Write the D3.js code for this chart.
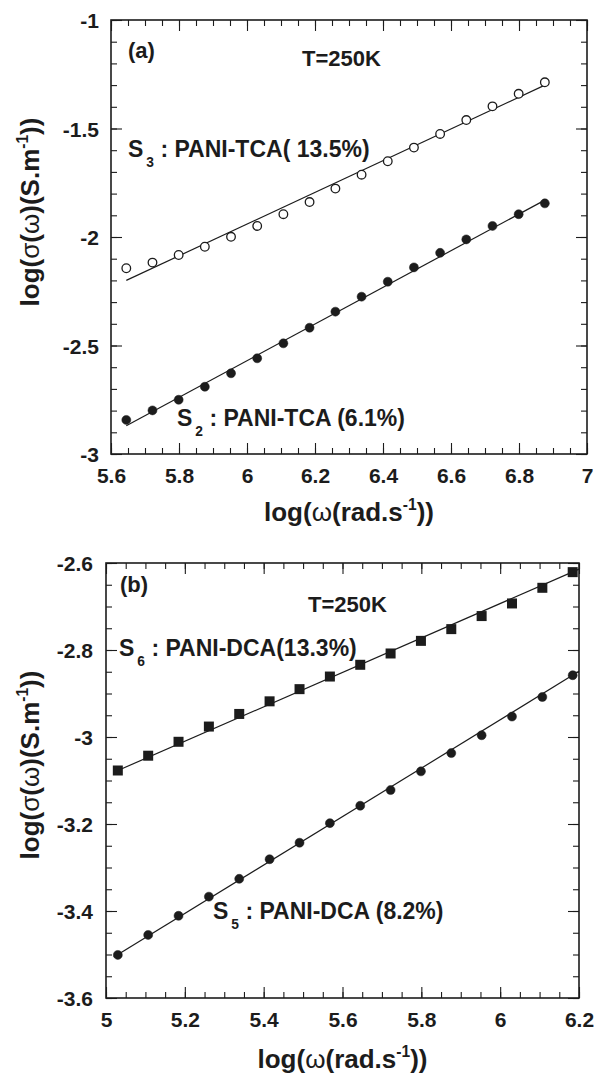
<!DOCTYPE html>
<html><head><meta charset="utf-8">
<script src="https://cdn.jsdelivr.net/npm/d3@7"></script>
<style>
body{margin:0;background:#fff}
svg{display:block;background:#fff}
text{font-family:"Liberation Sans",Arial,Helvetica,sans-serif;font-weight:bold;fill:#1c1c1c}
</style>
</head><body>
<svg id="chart" width="595" height="1077"></svg>
<script>
// ---------- Panel (a) data ----------
const freqA = [5.645,5.722,5.799,5.876,5.953,6.030,6.107,6.184,6.260,6.337,6.414,6.491,6.568,6.645,6.722,6.799,6.876];
const sigmaS3 = [-2.144,-2.118,-2.083,-2.045,-1.999,-1.949,-1.895,-1.839,-1.777,-1.713,-1.651,-1.588,-1.525,-1.461,-1.398,-1.340,-1.287];
const sigmaS2 = [-2.843,-2.799,-2.750,-2.690,-2.628,-2.559,-2.490,-2.418,-2.344,-2.275,-2.206,-2.140,-2.073,-2.011,-1.949,-1.895,-1.845];
const fitXA = [5.645, 6.876];
const fitS3 = [-2.200, -1.300];
const fitS2 = [-2.870, -1.830];
const xTicksA = [5.6,5.8,6,6.2,6.4,6.6,6.8,7];
const yTicksA = [-3,-2.5,-2,-1.5,-1];

// ---------- Panel (b) data ----------
const freqB = [5.030,5.107,5.184,5.261,5.338,5.415,5.491,5.568,5.645,5.722,5.799,5.876,5.953,6.030,6.107,6.184];
const sigmaS6 = [-3.077,-3.043,-3.011,-2.976,-2.947,-2.918,-2.890,-2.861,-2.834,-2.808,-2.779,-2.752,-2.722,-2.693,-2.657,-2.621];
const sigmaS5 = [-3.501,-3.455,-3.411,-3.367,-3.326,-3.281,-3.243,-3.198,-3.158,-3.122,-3.079,-3.037,-2.996,-2.953,-2.908,-2.858];
const fitXB = [5.020, 6.200];
const fitS6 = [-3.081, -2.614];
const fitS5 = [-3.506, -2.849];
const xTicksB = [5,5.2,5.4,5.6,5.8,6,6.2];
const yTicksB = [-3.6,-3.4,-3.2,-3,-2.8,-2.6];

const svg = d3.select("#chart");
const INK = "#1c1c1c";

function richText(g, x, y, size, parts, anchor, transform) {
  const t = g.append("text").attr("font-size", size).attr("text-anchor", anchor || "start");
  if (transform) t.attr("transform", transform); else t.attr("x", x).attr("y", y);
  let shift = 0;
  parts.forEach(p => {
    const s = t.append("tspan").text(p.t);
    let target = 0;
    if (p.sup) { s.attr("font-size", size * 0.6); target = -size * 0.42; }
    if (p.sub) { s.attr("font-size", size * 0.6); target = size * 0.45; }
    if (p.dx) s.attr("dx", p.dx);
    if (p.normal) s.attr("font-weight", "normal");
    s.attr("dy", target - shift);
    shift = target;
  });
  return t;
}

function panel(cfg) {
  const g = svg.append("g");
  const x = d3.scaleLinear().domain(cfg.xd).range([cfg.l, cfg.r]);
  const y = d3.scaleLinear().domain(cfg.yd).range([cfg.b, cfg.t]);

  const strip = sel => { sel.select(".domain").remove(); sel.selectAll("line").attr("stroke", INK).attr("stroke-width", 1.1); };

  // minor ticks (all four sides, pointing inward)
  g.append("g").attr("transform", `translate(0,${cfg.b})`)
    .call(d3.axisBottom(x).tickValues(x.ticks(cfg.xMinor)).tickSize(-6).tickFormat("")).call(strip);
  g.append("g").attr("transform", `translate(0,${cfg.t})`)
    .call(d3.axisTop(x).tickValues(x.ticks(cfg.xMinor)).tickSize(-6).tickFormat("")).call(strip);
  g.append("g").attr("transform", `translate(${cfg.l},0)`)
    .call(d3.axisLeft(y).tickValues(y.ticks(cfg.yMinor)).tickSize(-6).tickFormat("")).call(strip);
  g.append("g").attr("transform", `translate(${cfg.r},0)`)
    .call(d3.axisRight(y).tickValues(y.ticks(cfg.yMinor)).tickSize(-6).tickFormat("")).call(strip);

  // major ticks
  const bx = g.append("g").attr("transform", `translate(0,${cfg.b})`)
    .call(d3.axisBottom(x).tickValues(cfg.xTicks).tickSize(-11).tickFormat(d => String(d))).call(strip);
  bx.selectAll("text").attr("y", 29).attr("dy", 0).attr("font-size", 21).attr("fill", INK)
    .style("font-family", '"Liberation Sans",Arial,sans-serif').style("font-weight", "bold");
  g.append("g").attr("transform", `translate(0,${cfg.t})`)
    .call(d3.axisTop(x).tickValues(cfg.xTicks).tickSize(-11).tickFormat("")).call(strip);
  const ly = g.append("g").attr("transform", `translate(${cfg.l},0)`)
    .call(d3.axisLeft(y).tickValues(cfg.yTicks).tickSize(-11).tickFormat(d => String(d))).call(strip);
  ly.selectAll("text").attr("x", -cfg.yLabGap).attr("dy", "0.36em").attr("font-size", 21).attr("fill", INK)
    .style("font-family", '"Liberation Sans",Arial,sans-serif').style("font-weight", "bold");
  g.append("g").attr("transform", `translate(${cfg.r},0)`)
    .call(d3.axisRight(y).tickValues(cfg.yTicks).tickSize(-11).tickFormat("")).call(strip);

  // frame
  g.append("rect").attr("x", cfg.l).attr("y", cfg.t).attr("width", cfg.r - cfg.l).attr("height", cfg.b - cfg.t)
    .attr("fill", "none").attr("stroke", INK).attr("stroke-width", 1.6);

  // fit lines
  const line = d3.line().x(d => x(d[0])).y(d => y(d[1]));
  cfg.fits.forEach(f => {
    g.append("path").datum(f.xs.map((v, i) => [v, f.ys[i]])).attr("d", line)
      .attr("fill", "none").attr("stroke", INK).attr("stroke-width", 1.2);
  });

  // markers
  cfg.series.forEach(s => {
    const pts = s.xs.map((v, i) => [v, s.ys[i]]);
    if (s.shape === "square") {
      g.selectAll(null).data(pts).enter().append("rect")
        .attr("x", d => x(d[0]) - 5).attr("y", d => y(d[1]) - 5)
        .attr("width", 10).attr("height", 10).attr("fill", INK);
    } else {
      g.selectAll(null).data(pts).enter().append("circle")
        .attr("cx", d => x(d[0])).attr("cy", d => y(d[1])).attr("r", s.open ? 4.3 : 4.5)
        .attr("fill", s.open ? "#fff" : INK).attr("stroke", INK).attr("stroke-width", s.open ? 1.3 : 0.5);
    }
  });

  // texts
  g.append("text").attr("x", cfg.tag[0]).attr("y", cfg.tag[1]).attr("font-size", 22).text(cfg.tag[2]);
  g.append("text").attr("x", cfg.temp[0]).attr("y", cfg.temp[1]).attr("font-size", 22).text("T=250K");
  cfg.labels.forEach(L => {
    richText(g, L.x, L.y, 23, [{t: "S"}, {t: L.n, sub: true, dx: 3}, {t: " : " + L.text}]);
  });
  // x title
  richText(g, (cfg.l + cfg.r) / 2, cfg.xTitleY, 26,
    [{t: "log("}, {t: "ω", normal: true}, {t: "(rad.s"}, {t: "-1", sup: true}, {t: "))"}], "middle");
  // y title
  richText(g, 0, 0, 26,
    [{t: "log("}, {t: "σ", normal: true}, {t: "("}, {t: "ω", normal: true}, {t: ")(S.m"}, {t: "-1", sup: true}, {t: "))"}],
    "middle", `translate(39,${cfg.yTitleY}) rotate(-90)`);
}

panel({
  l: 111, r: 587, t: 20, b: 454,
  xd: [5.6, 7], yd: [-3, -1], xMinor: 28, yMinor: 20,
  xTicks: xTicksA, yTicks: yTicksA, yLabGap: 12,
  fits: [{xs: fitXA, ys: fitS3}, {xs: fitXA, ys: fitS2}],
  series: [{xs: freqA, ys: sigmaS3, open: true}, {xs: freqA, ys: sigmaS2, open: false}],
  tag: [128, 58, "(a)"], temp: [302, 66],
  labels: [{x: 128, y: 157, n: "3", text: "PANI-TCA( 13.5%)"}, {x: 177, y: 426, n: "2", text: "PANI-TCA (6.1%)"}],
  xTitleY: 521, yTitleY: 212
});

panel({
  l: 106, r: 579, t: 563, b: 998,
  xd: [5, 6.2], yd: [-3.6, -2.6], xMinor: 24, yMinor: 20,
  xTicks: xTicksB, yTicks: yTicksB, yLabGap: 13,
  fits: [{xs: fitXB, ys: fitS6}, {xs: fitXB, ys: fitS5}],
  series: [{xs: freqB, ys: sigmaS6, shape: "square"}, {xs: freqB, ys: sigmaS5, open: false}],
  tag: [120, 592, "(b)"], temp: [308, 612],
  labels: [{x: 119, y: 656, n: "6", text: "PANI-DCA(13.3%)"}, {x: 213, y: 919, n: "5", text: "PANI-DCA (8.2%)"}],
  xTitleY: 1068, yTitleY: 765
});
</script>
</body></html>
